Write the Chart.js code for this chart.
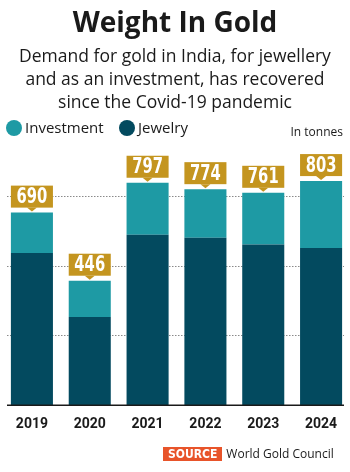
<!DOCTYPE html>
<html>
<head>
<meta charset="utf-8">
<script src="https://cdn.jsdelivr.net/npm/chart.js@4/dist/chart.umd.min.js"></script>
<style>
  html, body { margin: 0; padding: 0; background: #fff; }
  body { width: 350px; height: 472px; position: relative; overflow: hidden; font-family: "Open Sans", sans-serif; color: #1a1a1a; }
  #title { position: absolute; top: 3px; left: 0; width: 350px; text-align: center; font: 700 28px "Open Sans", sans-serif; line-height: 36px; }
  #sub { position: absolute; top: 44px; left: 0; width: 350px; text-align: center; font-size: 17.5px; line-height: 23px; }
  .leg { position: absolute; top: 118px; font-size: 15px; line-height: 18px; }
  .dot { display: inline-block; width: 16px; height: 16px; border-radius: 50%; vertical-align: -3px; margin-right: 3px; }
  #unit { position: absolute; top: 123px; right: 7px; font-size: 12px; }
  #source { position: absolute; top: 447px; left: 163px; font-size: 12px; line-height: 14px; }
  #source b { display: inline-block; background: #e8542a; color: #fff; font: 700 12px "Liberation Sans Narrow", "DejaVu Sans Condensed", sans-serif; padding: 0 5px; line-height: 14px; margin-right: 4px; }
  #wrap { position: absolute; top: 0; left: 0; width: 350px; height: 472px; }
</style>
</head>
<body>
<div id="wrap"><canvas id="barChart"></canvas></div>
<div id="title">Weight In Gold</div>
<div id="sub">Demand for gold in India, for jewellery<br>and as an investment, has recovered<br>since the Covid-19 pandemic</div>
<div class="leg" style="left:6px"><span class="dot" style="background:#1e9aa4"></span>Investment</div>
<div class="leg" style="left:119px"><span class="dot" style="background:#034a5f"></span>Jewelry</div>
<div id="unit">In tonnes</div>
<div id="source"><b>SOURCE</b>World Gold Council</div>
<script>
// values in tonnes
const years = ["2019", "2020", "2021", "2022", "2023", "2024"];
const jewelry = [545, 316, 611, 600, 576, 563];
const investment = [145, 130, 186, 174, 185, 240];
const gridValues = [250, 500, 750];

const totals = years.map((y, i) => jewelry[i] + investment[i]);

// dotted guide lines behind the bars, solid baseline on top
const guides = {
  id: "guides",
  beforeDatasetsDraw(chart) {
    const { ctx } = chart;
    const yScale = chart.scales.y;
    ctx.save();
    ctx.strokeStyle = "#8a8a8a";
    ctx.lineWidth = 1;
    ctx.setLineDash([1.5, 1.5]);
    for (const v of gridValues) {
      const py = Math.round(yScale.getPixelForValue(v)) + 0.5;
      ctx.beginPath();
      ctx.moveTo(7, py);
      ctx.lineTo(344, py);
      ctx.stroke();
    }
    ctx.restore();
  },
  afterDatasetsDraw(chart) {
    const { ctx } = chart;
    const py = chart.scales.y.getPixelForValue(0);
    ctx.save();
    ctx.strokeStyle = "#1a1a1a";
    ctx.lineWidth = 1.5;
    ctx.beginPath();
    ctx.moveTo(7, py);
    ctx.lineTo(344, py);
    ctx.stroke();
    ctx.restore();
  }
};

// gold total tags above each bar
const totalTags = {
  id: "totalTags",
  afterDatasetsDraw(chart) {
    const { ctx } = chart;
    const meta = chart.getDatasetMeta(1);
    const yScale = chart.scales.y;
    ctx.save();
    meta.data.forEach((bar, i) => {
      const top = yScale.getPixelForValue(totals[i]);
      const w = bar.width;
      const left = bar.x - w / 2;
      const boxBottom = top - 5;
      const boxTop = boxBottom - 22;
      ctx.fillStyle = "#c4951f";
      ctx.fillRect(left, boxTop, w, 22);
      ctx.beginPath();
      ctx.moveTo(bar.x - 5, boxBottom);
      ctx.lineTo(bar.x + 5, boxBottom);
      ctx.lineTo(bar.x, boxBottom + 4);
      ctx.closePath();
      ctx.fill();
      ctx.fillStyle = "#fff";
      ctx.textAlign = "center";
      ctx.textBaseline = "middle";
      ctx.translate(bar.x, boxTop + 12);
      ctx.scale(0.78, 1);
      ctx.font = "bold 21px 'Liberation Sans Narrow', 'DejaVu Sans Condensed', sans-serif";
      ctx.fillText(String(totals[i]), 0, 0);
      ctx.setTransform(1, 0, 0, 1, 0, 0);
    });
    ctx.restore();
  }
};

new Chart(document.getElementById("barChart"), {
  type: "bar",
  data: {
    labels: years,
    datasets: [
      { label: "Jewelry", data: jewelry, backgroundColor: "#034a5f" },
      { label: "Investment", data: investment, backgroundColor: "#1e9aa4" }
    ]
  },
  options: {
    responsive: true,
    maintainAspectRatio: false,
    animation: false,
    devicePixelRatio: 1,
    layout: { padding: { top: 154, left: 3, right: 0, bottom: 36 } },
    datasets: { bar: { categoryPercentage: 1, barPercentage: 0.727, borderWidth: 0 } },
    plugins: { legend: { display: false }, tooltip: { enabled: false }, title: { display: false } },
    scales: {
      x: {
        stacked: true,
        grid: { display: false },
        border: { display: false },
        ticks: { color: "#1a1a1a", padding: 3, font: { family: "Roboto", weight: "bold", size: 14 } }
      },
      y: { stacked: true, display: false, min: 0, max: 900 }
    }
  },
  plugins: [guides, totalTags]
});
</script>
</body>
</html>
